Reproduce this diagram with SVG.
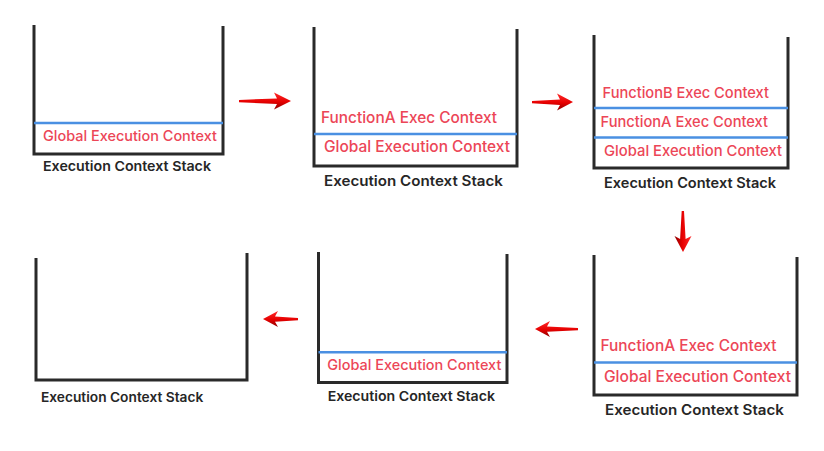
<svg xmlns="http://www.w3.org/2000/svg" width="824" height="451" viewBox="0 0 824 451">
<style>
  .wall{fill:none;stroke:#2a2a2a;stroke-width:3;stroke-linejoin:miter}
  .sep{stroke:#4a90e2;stroke-width:2.5}
  .ctx{font-family:Inter,"Noto Sans","Liberation Sans",sans-serif;font-weight:500;fill:#ec4657}
  .lbl{font-family:Inter,"Noto Sans","Liberation Sans",sans-serif;font-weight:600;fill:#262626}
  .arr{fill:url(#rg)}
</style>
<defs>
  <linearGradient id="rg" x1="0" y1="0" x2="0" y2="1">
    <stop offset="0" stop-color="#ff2a2a"/>
    <stop offset="0.55" stop-color="#e60000"/>
    <stop offset="1" stop-color="#8a0000"/>
  </linearGradient>
</defs>
<rect width="824" height="451" fill="#ffffff"/>

<g id="stack1">
  <polyline class="wall" points="34,25 34,154 223,154 223,26"/>
  <line class="sep" x1="34" y1="123" x2="223" y2="123"/>
  <text class="ctx" x="43" y="141" font-size="14.5" textLength="174" lengthAdjust="spacingAndGlyphs">Global Execution Context</text>
  <text class="lbl" x="43" y="171" font-size="13.5" textLength="168" lengthAdjust="spacingAndGlyphs">Execution Context Stack</text>
</g>

<g id="stack2">
  <polyline class="wall" points="314,27 314,166 517,166 517,29"/>
  <line class="sep" x1="314" y1="134" x2="517" y2="134"/>
  <text class="ctx" x="321" y="123" font-size="15.5" textLength="176" lengthAdjust="spacingAndGlyphs">FunctionA Exec Context</text>
  <text class="ctx" x="324" y="152" font-size="15.5" textLength="186" lengthAdjust="spacingAndGlyphs">Global Execution Context</text>
  <text class="lbl" x="324" y="186" font-size="14.5" textLength="179" lengthAdjust="spacingAndGlyphs">Execution Context Stack</text>
</g>

<g id="stack3">
  <polyline class="wall" points="594,35 594,168 788,168 788,37"/>
  <line class="sep" x1="594" y1="108" x2="788" y2="108"/>
  <line class="sep" x1="594" y1="137.5" x2="788" y2="137.5"/>
  <text class="ctx" x="602.5" y="97.5" font-size="14.8" textLength="166.5" lengthAdjust="spacingAndGlyphs">FunctionB Exec Context</text>
  <text class="ctx" x="600.5" y="126.5" font-size="14.8" textLength="167.5" lengthAdjust="spacingAndGlyphs">FunctionA Exec Context</text>
  <text class="ctx" x="604" y="156" font-size="14.8" textLength="178" lengthAdjust="spacingAndGlyphs">Global Execution Context</text>
  <text class="lbl" x="604" y="188" font-size="14" textLength="172" lengthAdjust="spacingAndGlyphs">Execution Context Stack</text>
</g>

<g id="stack4">
  <polyline class="wall" points="594,255 594,395 797,395 797,257"/>
  <line class="sep" x1="594" y1="362.5" x2="797" y2="362.5"/>
  <text class="ctx" x="600.5" y="351" font-size="15.5" textLength="176" lengthAdjust="spacingAndGlyphs">FunctionA Exec Context</text>
  <text class="ctx" x="604" y="381.5" font-size="15.5" textLength="187" lengthAdjust="spacingAndGlyphs">Global Execution Context</text>
  <text class="lbl" x="605" y="415" font-size="14.5" textLength="179" lengthAdjust="spacingAndGlyphs">Execution Context Stack</text>
</g>

<g id="stack5">
  <polyline class="wall" points="318.5,252 318.5,382.5 507,382.5 507,254"/>
  <line class="sep" x1="318.5" y1="352.3" x2="507" y2="352.3"/>
  <text class="ctx" x="327.3" y="370" font-size="14.5" textLength="174" lengthAdjust="spacingAndGlyphs">Global Execution Context</text>
  <text class="lbl" x="327.7" y="401" font-size="13.5" textLength="167.3" lengthAdjust="spacingAndGlyphs">Execution Context Stack</text>
</g>

<g id="stack6">
  <polyline class="wall" points="36,258 36,380 247,380 247,253"/>
  <text class="lbl" x="41" y="402" font-size="13" textLength="162.3" lengthAdjust="spacingAndGlyphs">Execution Context Stack</text>
</g>

<g id="connectors">
  <path class="arr" transform="translate(291,101)" d="M0,0 L-17,-8.5 L-14,-2.6 L-52,-1 L-52,1.3 L-14,2.9 L-17,8.5 Z"/>
  <path class="arr" transform="translate(573,102)" d="M0,0 L-16,-8.5 L-13,-2.6 L-41,-1 L-41,1.3 L-13,2.9 L-16,8.5 Z"/>
  <path class="arr" transform="translate(683,252) rotate(90)" d="M0,0 L-16,-8.5 L-13,-2.6 L-41,-1 L-41,1.3 L-13,2.9 L-16,8.5 Z"/>
  <path class="arr" transform="translate(535,329) scale(-1,1)" d="M0,0 L-15,-8 L-12,-2.4 L-43,-1 L-43,1.2 L-12,2.7 L-15,8 Z"/>
  <path class="arr" transform="translate(263,319) scale(-1,1)" d="M0,0 L-15,-8 L-12,-2.4 L-35,-1 L-35,1.2 L-12,2.7 L-15,8 Z"/>
</g>
</svg>
